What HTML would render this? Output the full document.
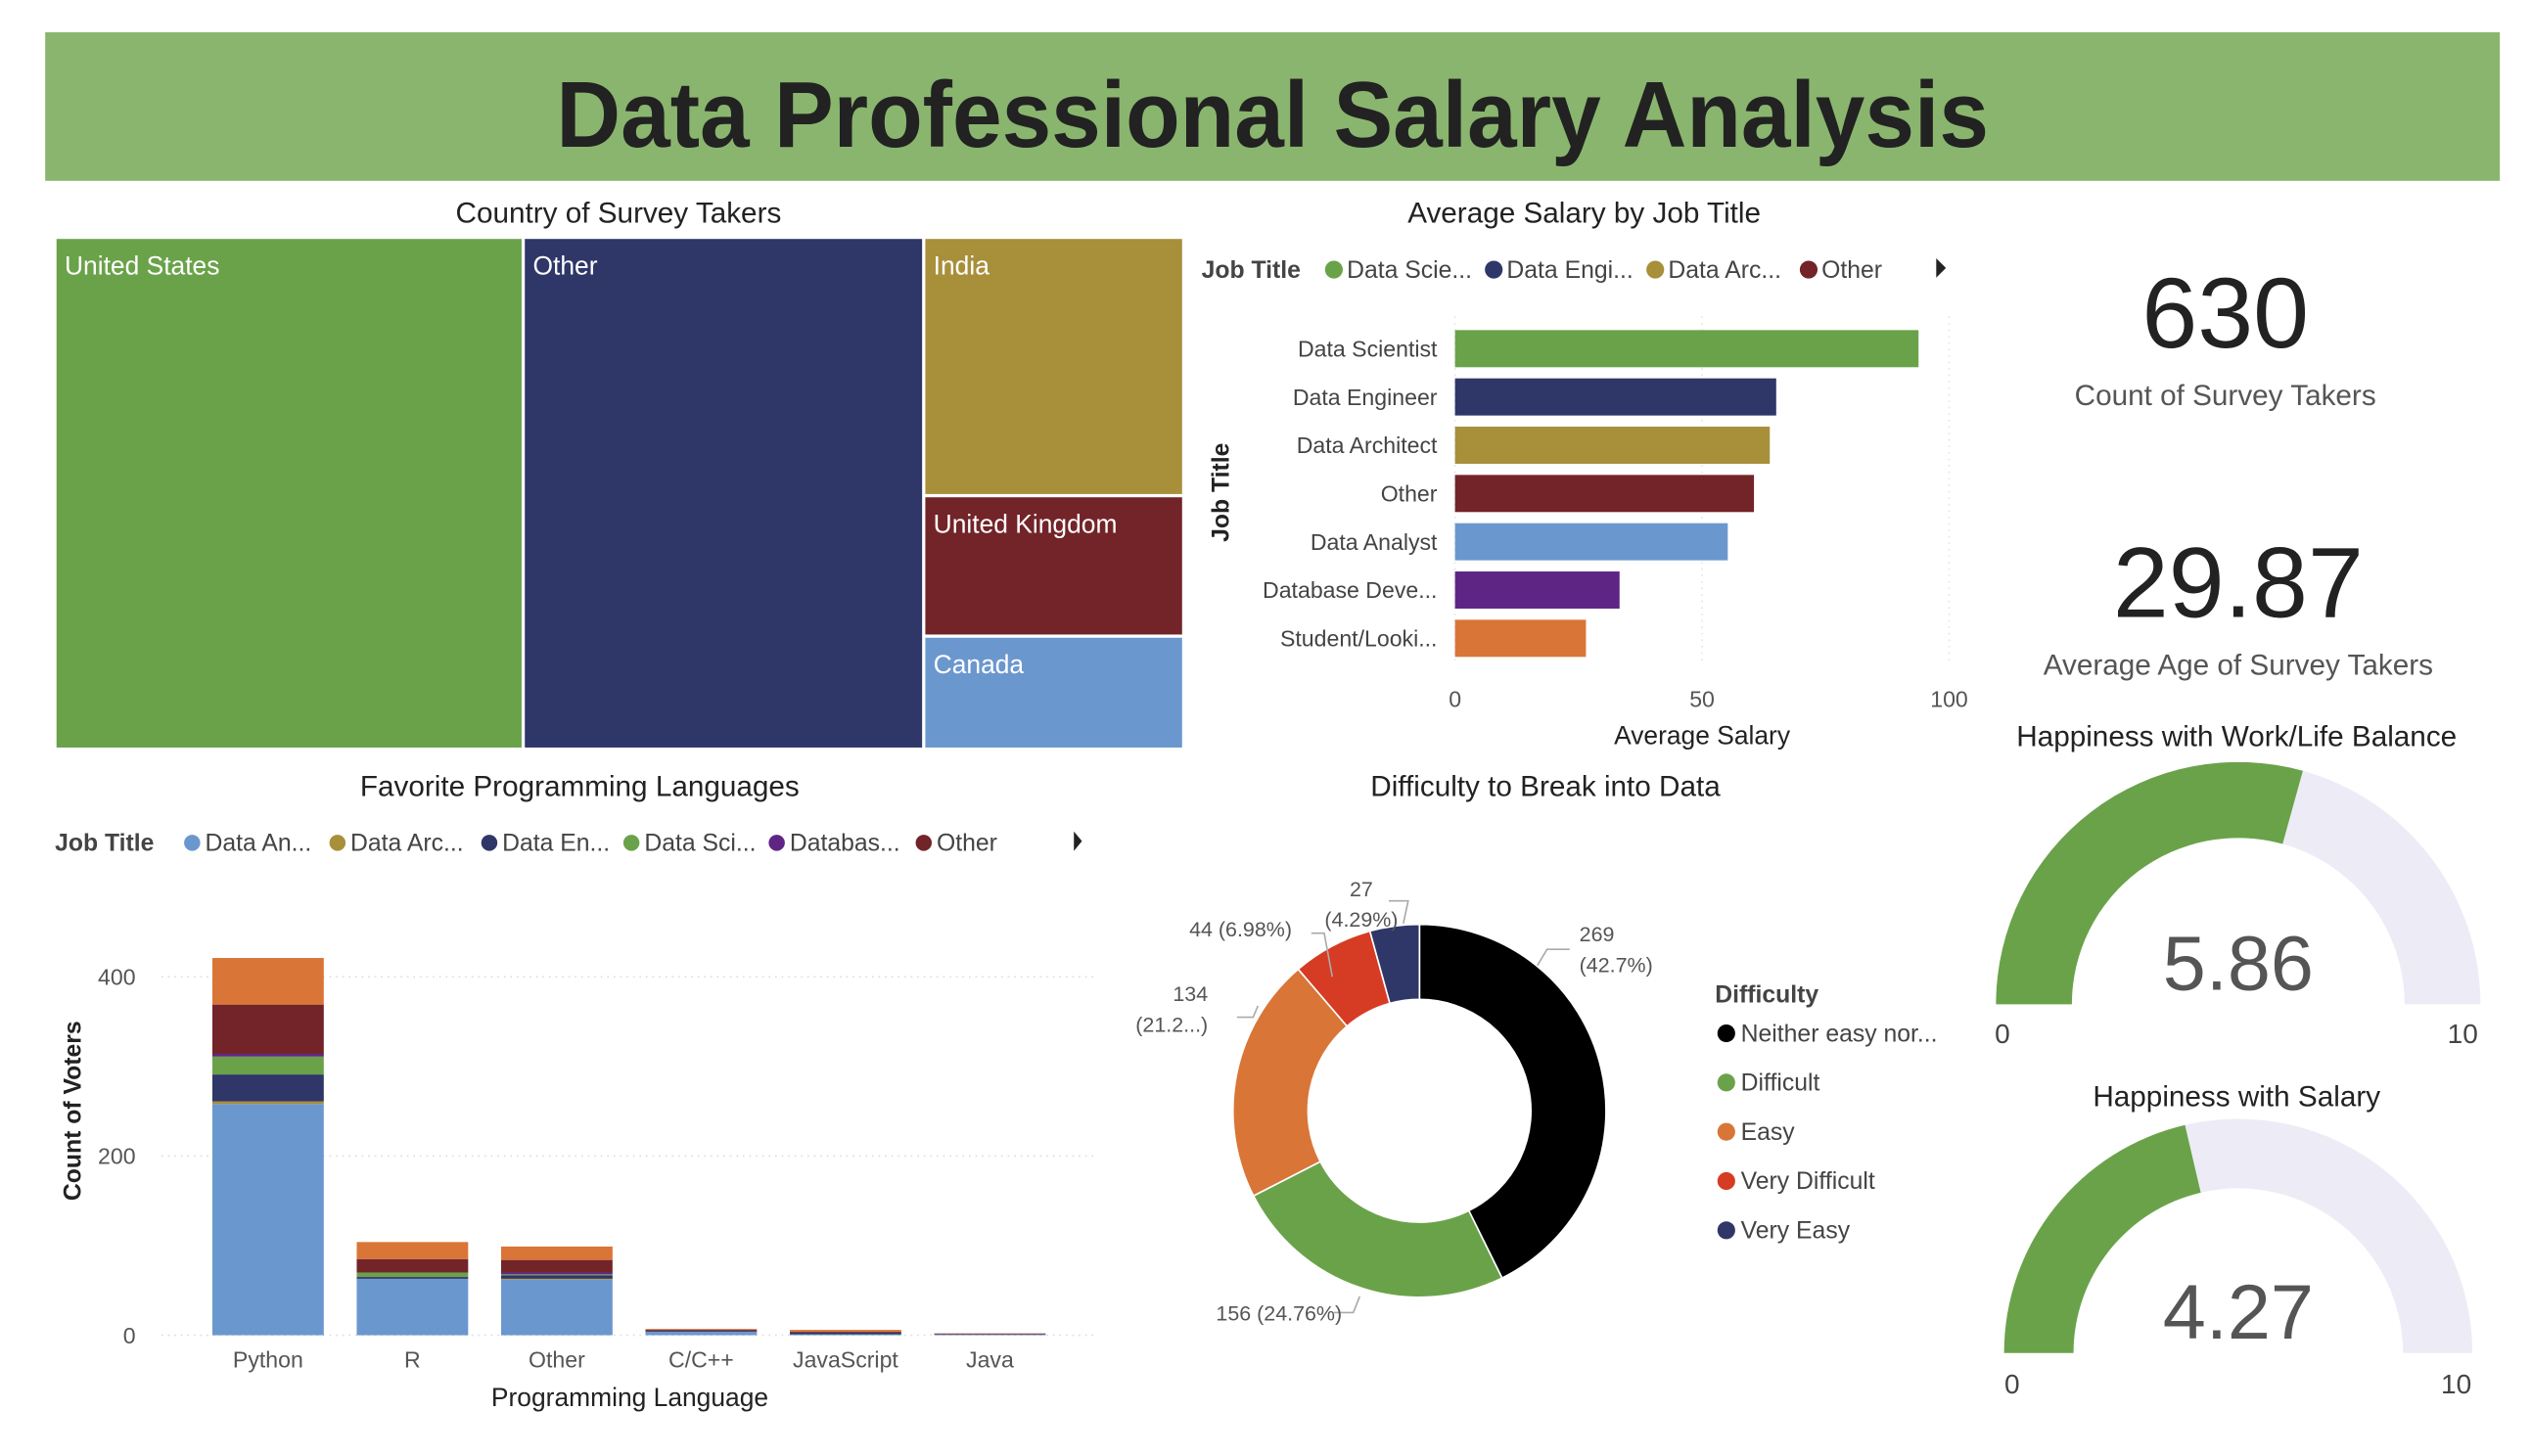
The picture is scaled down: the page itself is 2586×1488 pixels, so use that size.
<!DOCTYPE html>
<html><head><meta charset="utf-8">
<style>
html,body{margin:0;padding:0;background:#fff;}
svg{display:block;font-family:"Liberation Sans",sans-serif;}
</style></head>
<body>
<svg id="root" width="2586" height="1488" viewBox="0 0 1567.3 901.8" preserveAspectRatio="none" xmlns="http://www.w3.org/2000/svg">
  <rect x="0" y="0" width="1568" height="902" fill="#fff"/>
  <g>
    <rect x="28" y="20" width="1520" height="92" fill="#8ab56e"/>
    <text x="788" y="91" text-anchor="middle" font-size="58" font-weight="bold" fill="#222" textLength="887" lengthAdjust="spacingAndGlyphs">Data Professional Salary Analysis</text>
  </g>

  <g>
    <text x="383" y="138" text-anchor="middle" font-size="18" fill="#222">Country of Survey Takers</text>
    <rect x="35" y="148" width="288" height="315" fill="#6aa24a"/>
    <rect x="325" y="148" width="246" height="315" fill="#2f3768"/>
    <rect x="573" y="148" width="159" height="158" fill="#a88f3a"/>
    <rect x="573" y="308" width="159" height="85" fill="#722428"/>
    <rect x="573" y="395" width="159" height="68" fill="#6b97cf"/>
    <g font-size="16" fill="#fff">
      <text x="40" y="170">United States</text>
      <text x="330" y="170">Other</text>
      <text x="578" y="170">India</text>
      <text x="578" y="330">United Kingdom</text>
      <text x="578" y="417">Canada</text>
    </g>
  </g>

  <g id="salaryChart">
    <text x="981" y="138" text-anchor="middle" font-size="18" fill="#222">Average Salary by Job Title</text>
    <g font-size="15" fill="#444">
      <text x="744" y="172" font-weight="bold">Job Title</text>
      <circle cx="826" cy="167" r="5.5" fill="#6aa24a"/><text x="834" y="172">Data Scie...</text>
      <circle cx="925" cy="167" r="5.5" fill="#2f3768"/><text x="933" y="172">Data Engi...</text>
      <circle cx="1025" cy="167" r="5.5" fill="#a88f3a"/><text x="1033" y="172">Data Arc...</text>
      <circle cx="1120" cy="167" r="5.5" fill="#722428"/><text x="1128" y="172">Other</text>
      <path d="M1199 160 L1205 166 L1199 172 Z" fill="#222"/>
    </g>
    <text transform="translate(761,305) rotate(-90)" text-anchor="middle" font-size="15" font-weight="bold" fill="#222">Job Title</text>
    <text x="1054" y="461" text-anchor="middle" font-size="16" fill="#222">Average Salary</text>
  </g>

  <g>
    <text x="1378" y="215" text-anchor="middle" font-size="62" fill="#222">630</text>
    <text x="1378" y="251" text-anchor="middle" font-size="18" fill="#555">Count of Survey Takers</text>
  </g>
  <g>
    <text x="1386" y="382" text-anchor="middle" font-size="62" fill="#222">29.87</text>
    <text x="1386" y="418" text-anchor="middle" font-size="18" fill="#555">Average Age of Survey Takers</text>
  </g>

  <g id="gauges">
    <text x="1385" y="462" text-anchor="middle" font-size="18" fill="#222">Happiness with Work/Life Balance</text>
    <text x="1385" y="685" text-anchor="middle" font-size="18" fill="#222">Happiness with Salary</text>
  </g>

  <g id="langChart">
    <text x="359" y="493" text-anchor="middle" font-size="18" fill="#222">Favorite Programming Languages</text>
    <g font-size="15" fill="#444">
      <text x="34" y="527" font-weight="bold">Job Title</text>
      <circle cx="119" cy="522" r="5" fill="#6b97cf"/><text x="127" y="527">Data An...</text>
      <circle cx="209" cy="522" r="5" fill="#a88f3a"/><text x="217" y="527">Data Arc...</text>
      <circle cx="303" cy="522" r="5" fill="#2f3768"/><text x="311" y="527">Data En...</text>
      <circle cx="391" cy="522" r="5" fill="#6aa24a"/><text x="399" y="527">Data Sci...</text>
      <circle cx="481" cy="522" r="5" fill="#5f2585"/><text x="489" y="527">Databas...</text>
      <circle cx="572" cy="522" r="5" fill="#722428"/><text x="580" y="527">Other</text>
      <path d="M665 515 L670 521 L665 527 Z" fill="#222"/>
    </g>
    <text transform="translate(50,688) rotate(-90)" text-anchor="middle" font-size="15" font-weight="bold" fill="#222">Count of Voters</text>
    <text x="390" y="871" text-anchor="middle" font-size="16" fill="#222">Programming Language</text>
  </g>

  <g id="donutChart">
    <text x="957" y="493" text-anchor="middle" font-size="18" fill="#222">Difficulty to Break into Data</text>
    <text x="1062" y="621" font-size="15" font-weight="bold" fill="#444">Difficulty</text>
  </g>
</svg>
<script>
var NS='http://www.w3.org/2000/svg';
function mk(tag,attrs,parent,txt){var e=document.createElementNS(NS,tag);for(var k in attrs)e.setAttribute(k,attrs[k]);if(txt!==undefined)e.textContent=txt;parent.appendChild(e);return e;}

// ---- Salary by job title ----
var jobTitles=['Data Scientist','Data Engineer','Data Architect','Other','Data Analyst','Database Deve...','Student/Looki...'];
var avgSalary=[93.8,65,63.7,60.5,55.2,33.3,26.5];
var salaryTicks=[0,50,100];
var jobColors=['#6aa24a','#2f3768','#a88f3a','#722428','#6b97cf','#5f2585','#d97537'];

var sc=document.getElementById('salaryChart');
var sx0=901,sx1=1207,sy0=201,rowH=29.9,barH=23;
function xs(v){return sx0+(v/100)*(sx1-sx0);}
salaryTicks.forEach(function(t){
  var l=mk('line',{x1:xs(t),x2:xs(t),y1:196,y2:412,stroke:'#e6e6e6','stroke-dasharray':'1,3'},sc);
  
  
  var tx=mk('text',{x:xs(t),y:438,'text-anchor':'middle','font-size':14,fill:'#555'},sc,String(t));
  
  
});
jobTitles.forEach(function(j,i){
  var cy=sy0+rowH*i+rowH/2;
  var r=mk('rect',{x:sx0,y:cy-barH/2,width:xs(avgSalary[i])-sx0,height:barH,fill:jobColors[i]},sc);
  
  
  var t=mk('text',{x:890,y:cy+5,'text-anchor':'end','font-size':14,fill:'#444'},sc,j);
  
  
});

// ---- Stacked languages ----
var languages=['Python','R','Other','C/C++','JavaScript','Java'];
var seriesNames=['Data Analyst','Data Architect','Data Engineer','Data Scientist','Database Developer','Other','Student'];
var sAnalyst=[258,63,62,4,1,1];
var sArchitect=[3,0,1,0,0,0];
var sEngineer=[30,2,4,1,2,0];
var sScientist=[20,5,1,0,0,0];
var sDatabase=[3,0,2,0,0,0];
var sOther=[55,15,14,1,1,1];
var sStudent=[52,19,15,1,2,0];
var voterTicks=[0,200,400];
var seriesColors=['#6b97cf','#a88f3a','#2f3768','#6aa24a','#5f2585','#722428','#d97537'];
var allSeries=[sAnalyst,sArchitect,sEngineer,sScientist,sDatabase,sOther,sStudent];

var lc=document.getElementById('langChart');
var ly0=827,lyScale=(827-605)/400,lx0=166,lstep=89.4,lbw=69;
function ly(v){return ly0-v*lyScale;}
voterTicks.forEach(function(t){
  var g=mk('line',{x1:100,x2:680,y1:ly(t),y2:ly(t),stroke:'#ddd','stroke-dasharray':'1,3'},lc);
  
  
  var tx=mk('text',{x:84,y:ly(t)+5,'text-anchor':'end','font-size':14,fill:'#555'},lc,String(t));
  
  
});
languages.forEach(function(lang,i){
  var cx=lx0+lstep*i,acc=0;
  allSeries.forEach(function(s,k){
    var v=s[i]; if(v<=0)return;
    var r=mk('rect',{x:cx-lbw/2,y:ly(acc+v),width:lbw,height:v*lyScale,fill:seriesColors[k]},lc);
    
    
    acc+=v;
  });
  var t=mk('text',{x:cx,y:847,'text-anchor':'middle','font-size':14,fill:'#555'},lc,lang);
  
  
});

// ---- Donut ----
var diffNames=['Neither easy nor...','Difficult','Easy','Very Difficult','Very Easy'];
var diffCounts=[269,156,134,44,27];
var diffLabels=['269|(42.7%)','156 (24.76%)','134|(21.2...)','44 (6.98%)','27|(4.29%)'];
var diffColors=['#000000','#6aa24a','#d97537','#d63b23','#2f3768'];
var dc=document.getElementById('donutChart');
var dcx=879,dcy=688,dR=115.5,dr=69;
var total=diffCounts.reduce(function(a,b){return a+b;},0);
var ang=-Math.PI/2;
function pt(a,r){return [dcx+r*Math.cos(a),dcy+r*Math.sin(a)];}
var labelPos=[[978,583,'start'],[792,818,'middle'],[748,620,'end'],[800,580,'end'],[843,555,'middle']];
var leaderPts=[[[952,598],[958,588],[972,588]],[[842,803],[838,813],[826,813]],[[779,623],[776,630],[766,630]],[[825,605],[820,578],[812,578]],[[869,572],[872,558],[860,558]]];
diffCounts.forEach(function(v,i){
  var a2=ang+v/total*2*Math.PI,large=(a2-ang)>Math.PI?1:0;
  var p1=pt(ang,dR),p2=pt(a2,dR),p3=pt(a2,dr),p4=pt(ang,dr);
  var d='M'+p1+' A'+dR+' '+dR+' 0 '+large+' 1 '+p2+' L'+p3+' A'+dr+' '+dr+' 0 '+large+' 0 '+p4+'Z';
  var s=mk('path',{d:d,fill:diffColors[i],stroke:'#fff','stroke-width':1},dc);
  
  
  var ln=mk('polyline',{points:leaderPts[i].map(function(p){return p.join(',');}).join(' '),fill:'none',stroke:'#aaa','stroke-width':1},dc);
  
  
  var lp=labelPos[i],parts=diffLabels[i].split('|');
  var t=mk('text',{x:lp[0],y:lp[1],'text-anchor':lp[2],'font-size':13,fill:'#555'},dc);
  
  
  parts.forEach(function(p,k){mk('tspan',{x:lp[0],dy:k?19:0},t,p);});
  ang=a2;
  var ly2=640+30.5*i;
  var c=mk('circle',{cx:1069,cy:ly2,r:5.5,fill:diffColors[i]},dc);
  
  
  var lt=mk('text',{x:1078,y:ly2+5,'font-size':15,fill:'#444'},dc,diffNames[i]);
  
  
});

// ---- Gauges ----
var gaugeValues=[5.86,4.27];
var gaugeMax=[10,10];
var gg=document.getElementById('gauges');
var gGeom=[[1386,622,150,103,597,640],[1386,838,145,102,813,857]];
gaugeValues.forEach(function(v,i){
  var g=gGeom[i],cx=g[0],cy=g[1],R=g[2],r=g[3];
  var f=v/gaugeMax[i],th=Math.PI*(1-f);
  function P(t,rad){return [cx+rad*Math.cos(t),cy-rad*Math.sin(t)];}
  function arc(t1,t2,fill,name){
    var d='M'+P(t1,R)+' A'+R+' '+R+' 0 0 1 '+P(t2,R)+' L'+P(t2,r)+' A'+r+' '+r+' 0 0 0 '+P(t1,r)+'Z';
    var p=mk('path',{d:d,fill:fill},gg);
    
    
  }
  arc(th,0,'#edecf6','gauge-track-'+i);
  arc(Math.PI,th,'#6aa24a','gauge-fill-'+i);
  var t=mk('text',{x:cx,y:g[4]+16,'text-anchor':'middle','font-size':48,fill:'#555'},gg,v.toFixed(2));
  
  
  var a=mk('text',{x:cx-R+(i?5:4),y:g[5]+6,'text-anchor':'middle','font-size':17,fill:'#444'},gg,'0');
  
  
  var b=mk('text',{x:cx+R-(i?10:11),y:g[5]+6,'text-anchor':'middle','font-size':17,fill:'#444'},gg,String(gaugeMax[i]));
  
  
});
</script>
</body></html>
